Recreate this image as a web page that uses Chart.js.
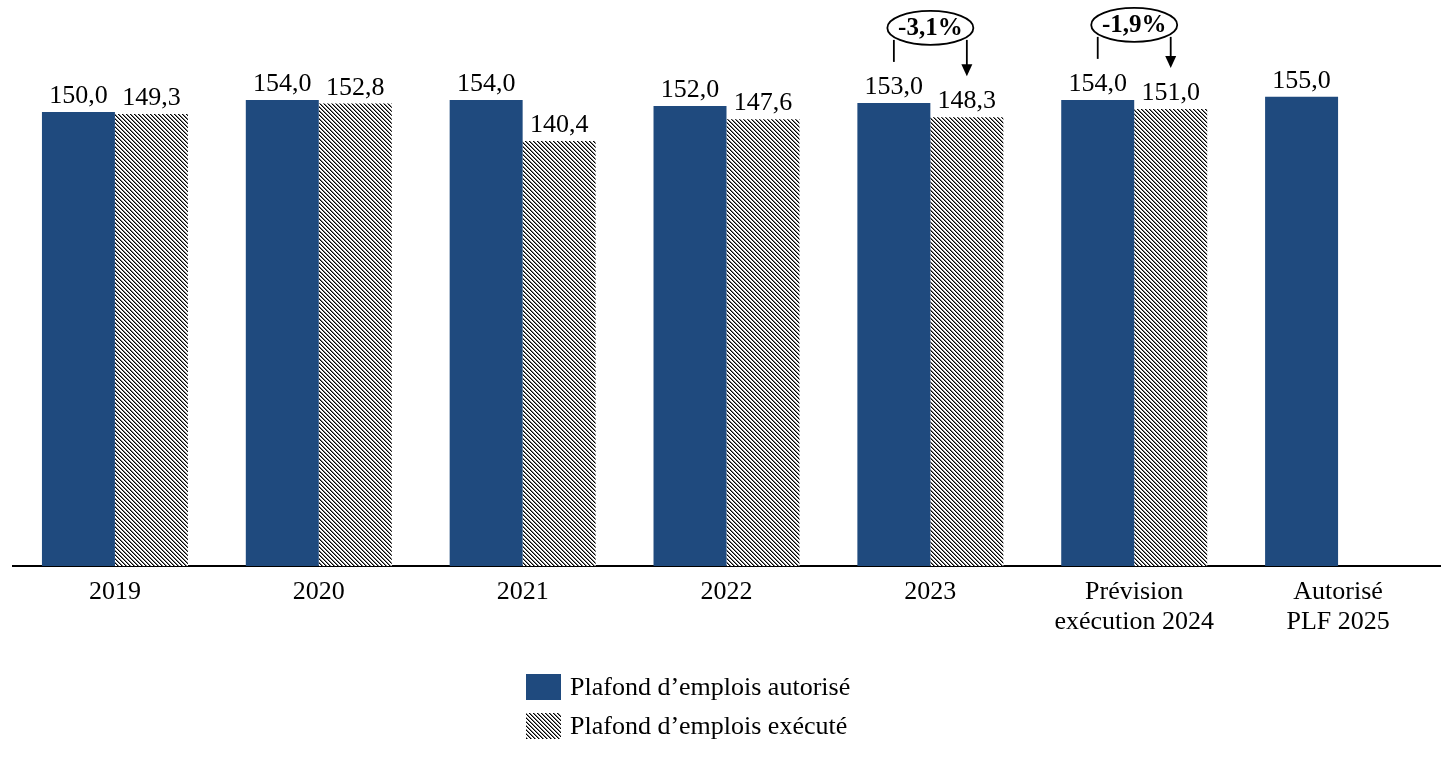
<!DOCTYPE html>
<html>
<head>
<meta charset="utf-8">
<script src="https://cdn.jsdelivr.net/npm/chart.js@4/dist/chart.umd.min.js"></script>
<style>
  html, body { margin: 0; padding: 0; background: #fff; }
  #wrap { width: 1453px; height: 757px; }
</style>
</head>
<body>
<div id="wrap"><canvas id="myChart" width="1453" height="757"></canvas></div>
<script>
// data
var categories = ["2019", "2020", "2021", "2022", "2023", ["Prévision", "exécution 2024"], ["Autorisé", "PLF 2025"]];
var autorise = [150.0, 154.0, 154.0, 152.0, 153.0, 154.0, 155.0];
var execute = [149.3, 152.8, 140.4, 147.6, 148.3, 151.0, null];
var seriesNames = ["Plafond d\u2019emplois autorisé", "Plafond d\u2019emplois exécuté"];
// evolution bubbles (index of category, text)
var evolIndex = [4, 5];
var evolText = ["-3,1%", "-1,9%"];

var FONT = "'Liberation Serif', 'DejaVu Serif', serif";
var blue = "#1f4a7e";

// hatch pattern for executed bars
function makeHatch() {
  var c = document.createElement("canvas");
  c.width = 4; c.height = 4;
  var g = c.getContext("2d");
  g.fillStyle = "#fff";
  g.fillRect(0, 0, 4, 4);
  g.fillStyle = "#000";
  for (var i = 0; i < 4; i++) {
    g.fillRect(i, i, 1, 1);
  }
  g.fillStyle = "rgba(0,0,0,0.5)";
  for (var i = 0; i < 4; i++) {
    g.fillRect((i + 1) % 4, i, 1, 1);
  }
  return g.createPattern(c, "repeat");
}
var hatch = makeHatch();

function fmt(v) {
  return v.toFixed(1).replace(".", ",");
}

// value labels above bars
var valueLabels = {
  id: "valueLabels",
  afterDatasetsDraw: function (chart) {
    var ctx = chart.ctx;
    ctx.save();
    ctx.font = "26px " + FONT;
    ctx.fillStyle = "#000";
    ctx.textAlign = "center";
    ctx.textBaseline = "alphabetic";
    chart.data.datasets.forEach(function (ds, di) {
      var meta = chart.getDatasetMeta(di);
      meta.data.forEach(function (bar, i) {
        var v = ds.data[i];
        if (v === null || v === undefined) return;
        ctx.fillText(fmt(v), bar.x, bar.y - 9);
      });
    });
    ctx.restore();
  }
};

// ellipse + arrows showing the gap between authorised and executed
var evolBubbles = {
  id: "evolBubbles",
  afterDatasetsDraw: function (chart) {
    var ctx = chart.ctx;
    var m0 = chart.getDatasetMeta(0);
    var m1 = chart.getDatasetMeta(1);
    ctx.save();
    evolIndex.forEach(function (idx, k) {
      var b0 = m0.data[idx];
      var b1 = m1.data[idx];
      var cx = chart.scales.x.getPixelForValue(idx);
      var topBar = Math.min(b0.y, b1.y);
      var cy = topBar - 75;
      var rx = 43, ry = 17;
      ctx.strokeStyle = "#000";
      ctx.fillStyle = "#000";
      ctx.lineWidth = 1.8;
      // left line
      ctx.beginPath();
      ctx.moveTo(b0.x, cy + 12);
      ctx.lineTo(b0.x, b0.y - 41);
      ctx.stroke();
      // right line with arrow
      var tip = b1.y - 41;
      ctx.beginPath();
      ctx.moveTo(b1.x, cy + 12);
      ctx.lineTo(b1.x, tip - 10);
      ctx.stroke();
      ctx.beginPath();
      ctx.moveTo(b1.x - 5.5, tip - 12);
      ctx.lineTo(b1.x + 5.5, tip - 12);
      ctx.lineTo(b1.x, tip);
      ctx.closePath();
      ctx.fill();
      // ellipse
      ctx.beginPath();
      ctx.ellipse(cx, cy, rx, ry, 0, 0, Math.PI * 2);
      ctx.fillStyle = "#fff";
      ctx.fill();
      ctx.stroke();
      ctx.fillStyle = "#000";
      ctx.font = "bold 25px " + FONT;
      ctx.textAlign = "center";
      ctx.textBaseline = "middle";
      ctx.fillText(evolText[k], cx, cy + 1);
    });
    ctx.restore();
  }
};

// legend, two rows under the chart
var bottomLegend = {
  id: "bottomLegend",
  afterDraw: function (chart) {
    var ctx = chart.ctx;
    ctx.save();
    ctx.font = "26px " + FONT;
    ctx.textBaseline = "middle";
    chart.data.datasets.forEach(function (ds, i) {
      var y = 674 + i * 39;
      ctx.fillStyle = ds.backgroundColor;
      ctx.fillRect(526, y, 35, 26);
      ctx.fillStyle = "#000";
      ctx.fillText(ds.label, 570, y + 14);
    });
    ctx.restore();
  }
};

var ctx = document.getElementById("myChart").getContext("2d");
var myChart = new Chart(ctx, {
  type: "bar",
  data: {
    labels: categories,
    datasets: [
      {
        label: seriesNames[0],
        data: autorise,
        backgroundColor: blue,
        borderWidth: 0
      },
      {
        label: seriesNames[1],
        data: execute,
        backgroundColor: hatch,
        borderWidth: 0
      }
    ]
  },
  options: {
    responsive: false,
    animation: false,
    events: [],
    layout: { padding: { left: 13, right: 13, top: 0, bottom: 0 } },
    datasets: {
      bar: { categoryPercentage: 0.716, barPercentage: 1.0 }
    },
    plugins: {
      legend: { display: false },
      tooltip: { enabled: false }
    },
    scales: {
      x: {
        grid: { display: false, drawTicks: false },
        border: { display: true, color: "#000", width: 2 },
        ticks: {
          color: "#000",
          padding: 11,
          font: { family: FONT, size: 26, lineHeight: 1.15 }
        },
        afterFit: function (scale) { scale.height = 191; }
      },
      y: {
        display: false,
        min: 0,
        max: 187
      }
    }
  },
  plugins: [valueLabels, evolBubbles, bottomLegend]
});
</script>
</body>
</html>
